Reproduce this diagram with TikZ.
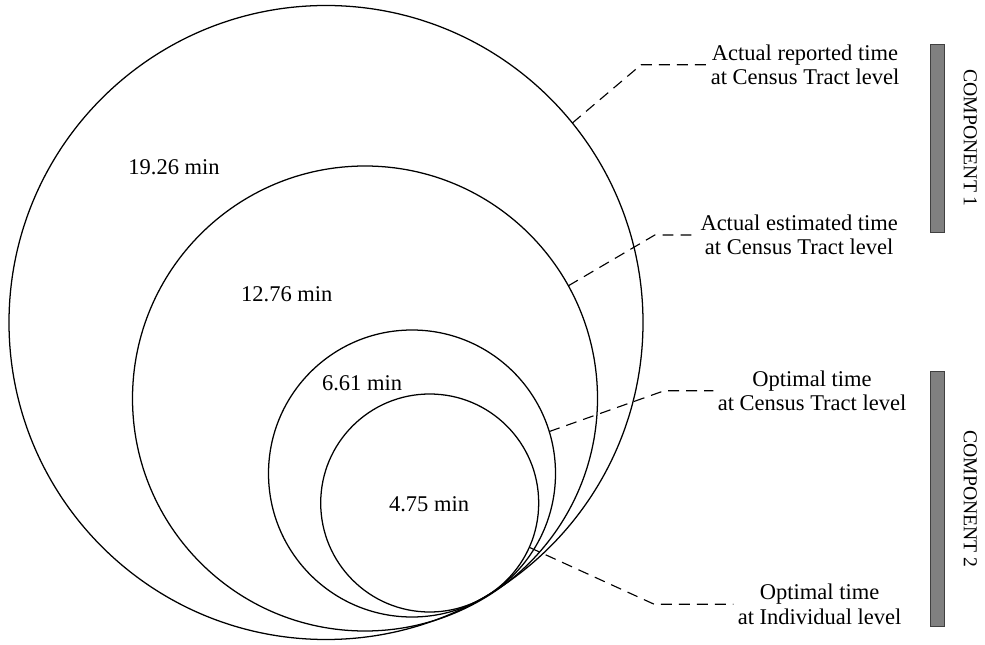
\documentclass[tikz,border=0pt]{standalone}
\usepackage{fontspec}
\setmainfont{Liberation Serif}
\usetikzlibrary{calc}
\tikzset{
  ring/.style={draw=black, line width=0.9pt, circle, inner sep=0pt, outer sep=0pt},
  leader/.style={draw=black, line width=0.8pt, dash pattern=on 7.8pt off 5pt},
  lbl/.style={align=center, inner sep=3pt, font=\fontsize{16}{17.5}\selectfont},
  val/.style={inner sep=0pt, font=\fontsize{16}{17.5}\selectfont},
  compbar/.style={draw=black!75, fill=black!50, line width=0.6pt},
  comptext/.style={rotate=-90, inner sep=0pt, font=\fontsize{14}{16}\selectfont}
}
\begin{document}
\begin{tikzpicture}
\useasboundingbox (0,0) rectangle (24.625,16.1);
%\draw[step=1cm,gray,very thin] (0,0) grid (24.625,16.1); %background grid
\node[ring, minimum size=15.85cm] (reported) at (8.15,8.0375) {};
\node[ring, minimum size=11.625cm] (estimated) at (9.125,6.1375) {};
\node[ring, minimum size=7.175cm] (opttract) at (10.30,4.2625) {};
\node[ring, minimum size=5.45cm] (optindiv) at (10.7425,3.525) {};
\node[val] (v1) at (4.35,11.93) {19.26 min};
\node[val] (v2) at (7.17,8.75) {12.76 min};
\node[val] (v3) at (9.05,6.53) {6.61 min};
\node[val] (v4) at (10.725,3.50) {4.75 min};
\node[lbl] (lreported) at (20.125,14.48) {Actual reported time\\at Census Tract level};
\node[lbl] (lestimated) at (19.98,10.225) {Actual estimated time\\at Census Tract level};
\node[lbl] (lopttract) at (20.30,6.33) {Optimal time\\at Census Tract level};
\node[lbl] (loptindiv) at (20.49,0.995) {Optimal time\\at Individual level};
\draw[leader] (reported.39.2) -- ($(lreported.west)+(-1.63,0)$) -- (lreported.west);
\draw[leader] (estimated.29.4) -- ($(lestimated.west)+(-1.03,0)$) -- (lestimated.west);
\draw[leader] (opttract.17.7) -- ($(lopttract.west)+(-1.23,0)$) -- (lopttract.west);
\draw[leader] (optindiv.-24.3) -- ($(loptindiv.west)+(-1.98,0)$) -- (loptindiv.west);
\draw[compbar] (23.25,15.0) rectangle (23.6,10.29);
\draw[compbar] (23.25,6.825) rectangle (23.6,0.43);
\node[comptext] (c1) at (24.26,12.645) {COMPONENT 1};
\node[comptext] (c2) at (24.26,3.625) {COMPONENT 2};
\end{tikzpicture}
\end{document}
